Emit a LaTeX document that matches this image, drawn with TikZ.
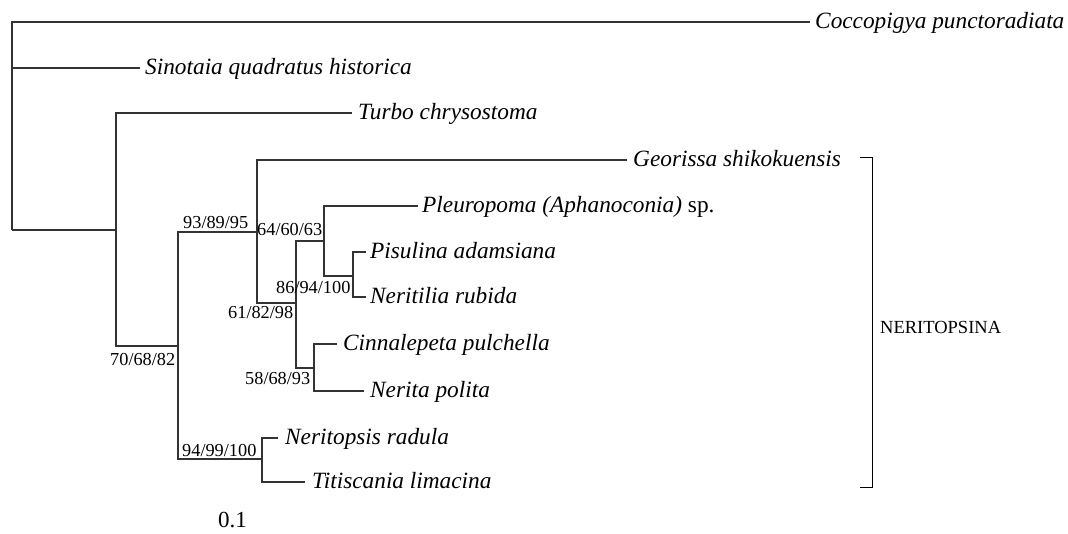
\documentclass[tikz,border=0pt]{standalone}
\usepackage{fontspec}
\setmainfont{Liberation Serif}
\begin{document}
\begin{tikzpicture}[x=1pt,y=-1pt,
  br/.style={draw=black!80,line width=1.2pt},
  taxon/.style={anchor=base west,inner sep=0pt,font=\fontsize{23.3}{28}\selectfont\itshape},
  supp/.style={anchor=base west,inner sep=0pt,font=\fontsize{18.3}{22}\selectfont},
  clade/.style={anchor=west,inner sep=0pt,font=\fontsize{18.5}{22}\selectfont}]
\useasboundingbox (0,0) rectangle (1068,533);
% internal nodes
\coordinate (R)  at (12,230);
\coordinate (n1) at (116,230);
\coordinate (n2) at (178,346);
\coordinate (n3) at (257,232);
\coordinate (n4) at (296,303);
\coordinate (n5) at (324,241);
\coordinate (n6) at (353,276);
\coordinate (n7) at (314,368);
\coordinate (n8) at (262,459);
% tips
\coordinate (tcoc) at (810,22);
\coordinate (tsin) at (140,68);
\coordinate (ttur) at (352,113);
\coordinate (tgeo) at (627,160);
\coordinate (tple) at (418,206);
\coordinate (tpis) at (366,252);
\coordinate (tner) at (366,297);
\coordinate (tcin) at (337,344);
\coordinate (tnpo) at (364,391);
\coordinate (tnrd) at (278,438);
\coordinate (ttit) at (305,482);
% labels
\node[taxon] (coc) at (815,28) {Coccopigya punctoradiata};
\node[taxon] (sin) at (145,74) {Sinotaia quadratus historica};
\node[taxon] (tur) at (358,119) {Turbo chrysostoma};
\node[taxon] (geo) at (633,166) {Georissa shikokuensis};
\node[taxon] (ple) at (422,212) {Pleuropoma (Aphanoconia) \upshape sp.};
\node[taxon] (pis) at (370,258) {Pisulina adamsiana};
\node[taxon] (ner) at (370,303) {Neritilia rubida};
\node[taxon] (cin) at (343,350) {Cinnalepeta pulchella};
\node[taxon] (npo) at (370,397) {Nerita polita};
\node[taxon] (nrd) at (285,444) {Neritopsis radula};
\node[taxon] (tit) at (312,488) {Titiscania limacina};
% branches
\draw[br] (R) |- (tcoc);
\draw[br] (R) |- (tsin);
\draw[br] (R) -- (n1);
\draw[br] (n1) |- (ttur);
\draw[br] (n1) |- (n2);
\draw[br] (n2) |- (n3);
\draw[br] (n2) |- (n8);
\draw[br] (n3) |- (tgeo);
\draw[br] (n3) |- (n4);
\draw[br] (n4) |- (n5);
\draw[br] (n4) |- (n7);
\draw[br] (n5) |- (tple);
\draw[br] (n5) |- (n6);
\draw[br] (n6) |- (tpis);
\draw[br] (n6) |- (tner);
\draw[br] (n7) |- (tcin);
\draw[br] (n7) |- (tnpo);
\draw[br] (n8) |- (tnrd);
\draw[br] (n8) |- (ttit);
% support values
\node[supp] (s3) at (183,228) {93/89/95};
\node[supp] (s5) at (257,235) {64/60/63};
\node[supp] (s4) at (228,318) {61/82/98};
\node[supp] (s6) at (276,293) {86/94/100};
\node[supp] (s2) at (110,365) {70/68/82};
\node[supp] (s7) at (245,384) {58/68/93};
\node[supp] (s8) at (182,456) {94/99/100};
\node[anchor=base west,inner sep=0pt,font=\fontsize{23}{27}\selectfont] (scale) at (218,527) {0.1};
% clade bracket
\coordinate (bt) at (860,157);
\coordinate (bb) at (860,487);
\draw[br,line width=1pt,draw=black] (bt) -- ++(12,0) |- (bb);
\node[clade] (cl) at (880,327) {NERITOPSINA};
\end{tikzpicture}
\end{document}
